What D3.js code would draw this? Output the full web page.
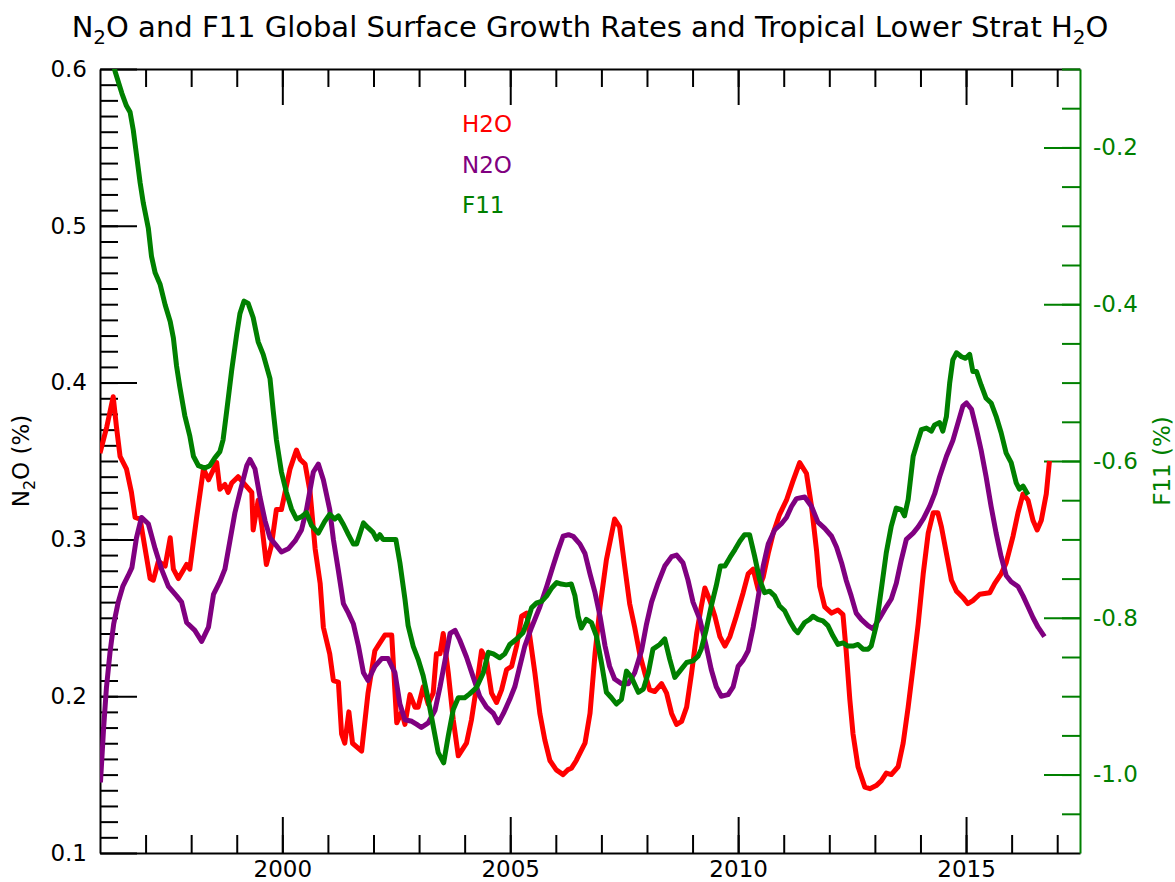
<!DOCTYPE html>
<html>
<head>
<meta charset="utf-8">
<script src="https://cdn.jsdelivr.net/npm/d3@7"></script>
<style>
  html, body { margin: 0; padding: 0; background: #fff; }
  svg { display: block; font-family: "DejaVu Sans", sans-serif; }
</style>
</head>
<body>
<svg id="chart" width="1175" height="882"></svg>
<script>
// Tropical lower-stratosphere H2O anomaly (left axis, same scale as N2O)
const h2oSeries = [[1996.00,0.355],[1996.15,0.372],[1996.29,0.391],[1996.36,0.372],[1996.44,0.353],[1996.58,0.345],[1996.69,0.330],[1996.77,0.314],[1996.88,0.313],[1996.99,0.294],[1997.10,0.275],[1997.17,0.274],[1997.28,0.286],[1997.43,0.283],[1997.54,0.301],[1997.61,0.281],[1997.72,0.275],[1997.90,0.284],[1997.97,0.281],[1998.12,0.314],[1998.27,0.345],[1998.38,0.338],[1998.56,0.349],[1998.63,0.332],[1998.74,0.335],[1998.81,0.330],[1998.89,0.336],[1999.03,0.340],[1999.18,0.335],[1999.33,0.330],[1999.36,0.306],[1999.47,0.325],[1999.55,0.309],[1999.65,0.284],[1999.76,0.296],[1999.87,0.319],[1999.98,0.319],[2000.06,0.330],[2000.17,0.345],[2000.31,0.357],[2000.39,0.351],[2000.50,0.348],[2000.61,0.330],[2000.72,0.294],[2000.83,0.272],[2000.90,0.244],[2001.04,0.227],[2001.12,0.210],[2001.23,0.209],[2001.30,0.176],[2001.37,0.170],[2001.46,0.190],[2001.54,0.170],[2001.74,0.165],[2001.88,0.202],[2002.03,0.229],[2002.14,0.234],[2002.25,0.239],[2002.40,0.239],[2002.51,0.183],[2002.62,0.190],[2002.69,0.182],[2002.80,0.201],[2002.91,0.193],[2002.98,0.193],[2003.09,0.206],[2003.20,0.195],[2003.31,0.202],[2003.38,0.227],[2003.46,0.227],[2003.53,0.240],[2003.64,0.215],[2003.75,0.185],[2003.86,0.162],[2004.04,0.170],[2004.15,0.185],[2004.26,0.206],[2004.37,0.229],[2004.48,0.223],[2004.59,0.202],[2004.70,0.196],[2004.81,0.204],[2004.92,0.217],[2005.03,0.219],[2005.14,0.232],[2005.25,0.251],[2005.36,0.253],[2005.43,0.238],[2005.54,0.215],[2005.65,0.189],[2005.76,0.172],[2005.87,0.159],[2006.01,0.153],[2006.16,0.150],[2006.26,0.153],[2006.34,0.154],[2006.45,0.159],[2006.64,0.170],[2006.75,0.189],[2006.86,0.227],[2006.97,0.257],[2007.11,0.287],[2007.29,0.313],[2007.40,0.308],[2007.51,0.283],[2007.62,0.259],[2007.73,0.244],[2007.84,0.227],[2007.95,0.215],[2008.06,0.204],[2008.17,0.203],[2008.32,0.208],[2008.43,0.202],[2008.54,0.189],[2008.65,0.182],[2008.76,0.184],[2008.87,0.193],[2008.98,0.215],[2009.09,0.240],[2009.19,0.257],[2009.27,0.269],[2009.38,0.261],[2009.49,0.251],[2009.60,0.238],[2009.71,0.232],[2009.82,0.238],[2009.96,0.251],[2010.11,0.266],[2010.22,0.278],[2010.33,0.281],[2010.44,0.268],[2010.55,0.276],[2010.66,0.291],[2010.77,0.304],[2010.91,0.316],[2011.06,0.325],[2011.20,0.337],[2011.35,0.349],[2011.50,0.342],[2011.61,0.321],[2011.72,0.293],[2011.79,0.270],[2011.90,0.257],[2012.05,0.253],[2012.19,0.255],[2012.30,0.252],[2012.37,0.229],[2012.45,0.198],[2012.52,0.176],[2012.63,0.155],[2012.78,0.142],[2012.89,0.141],[2013.03,0.143],[2013.14,0.146],[2013.25,0.151],[2013.36,0.150],[2013.51,0.155],[2013.62,0.170],[2013.73,0.193],[2013.84,0.219],[2013.95,0.246],[2014.06,0.278],[2014.17,0.304],[2014.28,0.317],[2014.38,0.317],[2014.46,0.308],[2014.57,0.291],[2014.68,0.274],[2014.79,0.267],[2014.93,0.263],[2015.04,0.259],[2015.15,0.261],[2015.30,0.265],[2015.52,0.266],[2015.63,0.272],[2015.77,0.278],[2015.88,0.285],[2016.03,0.302],[2016.14,0.317],[2016.25,0.329],[2016.36,0.325],[2016.47,0.312],[2016.56,0.306],[2016.65,0.312],[2016.76,0.329],[2016.83,0.350]];

// N2O global surface growth rate, % per year (left axis)
const n2oSeries = [[1996.01,0.145],[1996.08,0.180],[1996.14,0.205],[1996.22,0.228],[1996.30,0.246],[1996.40,0.260],[1996.50,0.270],[1996.62,0.277],[1996.70,0.282],[1996.80,0.301],[1996.91,0.314],[1997.06,0.310],[1997.21,0.294],[1997.35,0.281],[1997.50,0.270],[1997.68,0.264],[1997.79,0.260],[1997.90,0.247],[1998.08,0.242],[1998.23,0.235],[1998.38,0.244],[1998.49,0.265],[1998.63,0.273],[1998.74,0.281],[1998.85,0.299],[1998.96,0.317],[1999.07,0.330],[1999.22,0.347],[1999.29,0.351],[1999.40,0.345],[1999.51,0.327],[1999.62,0.312],[1999.73,0.301],[1999.87,0.296],[1999.98,0.292],[2000.13,0.294],[2000.28,0.299],[2000.42,0.306],[2000.53,0.319],[2000.68,0.343],[2000.79,0.348],[2000.90,0.338],[2001.04,0.319],[2001.12,0.300],[2001.23,0.280],[2001.34,0.259],[2001.45,0.253],[2001.56,0.246],[2001.67,0.232],[2001.78,0.215],[2001.88,0.210],[2002.03,0.219],[2002.18,0.224],[2002.32,0.224],[2002.47,0.215],[2002.58,0.195],[2002.69,0.185],[2002.84,0.184],[2002.95,0.182],[2003.05,0.180],[2003.20,0.183],[2003.35,0.191],[2003.46,0.206],[2003.57,0.223],[2003.68,0.240],[2003.79,0.242],[2003.89,0.236],[2004.04,0.225],[2004.19,0.212],[2004.33,0.200],[2004.48,0.193],[2004.63,0.189],[2004.74,0.183],[2004.85,0.189],[2004.99,0.198],[2005.10,0.206],[2005.21,0.219],[2005.32,0.232],[2005.47,0.244],[2005.65,0.257],[2005.80,0.270],[2005.94,0.283],[2006.05,0.293],[2006.16,0.302],[2006.28,0.303],[2006.38,0.302],[2006.53,0.297],[2006.64,0.291],[2006.75,0.278],[2006.86,0.266],[2006.97,0.251],[2007.08,0.232],[2007.18,0.219],[2007.29,0.211],[2007.44,0.208],[2007.59,0.208],[2007.73,0.215],[2007.88,0.229],[2007.99,0.246],[2008.10,0.260],[2008.24,0.272],[2008.39,0.283],[2008.54,0.289],[2008.65,0.290],[2008.79,0.285],[2008.90,0.274],[2009.01,0.260],[2009.16,0.249],[2009.30,0.232],[2009.41,0.217],[2009.52,0.206],[2009.63,0.200],[2009.78,0.201],[2009.89,0.206],[2010.00,0.219],[2010.11,0.223],[2010.22,0.229],[2010.33,0.244],[2010.44,0.263],[2010.55,0.283],[2010.66,0.297],[2010.80,0.306],[2010.95,0.310],[2011.06,0.314],[2011.17,0.321],[2011.28,0.326],[2011.46,0.327],[2011.61,0.321],[2011.75,0.311],[2011.90,0.307],[2012.05,0.302],[2012.16,0.295],[2012.27,0.285],[2012.37,0.274],[2012.48,0.264],[2012.59,0.253],[2012.70,0.249],[2012.85,0.245],[2012.96,0.243],[2013.11,0.250],[2013.25,0.257],[2013.36,0.262],[2013.47,0.272],[2013.58,0.287],[2013.69,0.300],[2013.84,0.304],[2013.95,0.308],[2014.06,0.313],[2014.20,0.321],[2014.31,0.329],[2014.42,0.340],[2014.57,0.353],[2014.71,0.363],[2014.82,0.374],[2014.93,0.385],[2015.01,0.387],[2015.12,0.383],[2015.23,0.370],[2015.33,0.357],[2015.44,0.340],[2015.55,0.321],[2015.66,0.304],[2015.77,0.289],[2015.88,0.277],[2015.99,0.273],[2016.14,0.270],[2016.25,0.264],[2016.36,0.257],[2016.47,0.250],[2016.58,0.244],[2016.72,0.238]];

// CFC-11 global surface growth rate, % per year (right axis)
const f11Series = [[1996.20,-0.060],[1996.33,-0.103],[1996.48,-0.131],[1996.58,-0.147],[1996.66,-0.155],[1996.73,-0.178],[1996.80,-0.209],[1996.88,-0.245],[1996.95,-0.271],[1997.06,-0.303],[1997.13,-0.339],[1997.21,-0.360],[1997.32,-0.375],[1997.43,-0.401],[1997.54,-0.422],[1997.61,-0.443],[1997.68,-0.479],[1997.75,-0.505],[1997.86,-0.542],[1997.97,-0.568],[1998.05,-0.594],[1998.16,-0.606],[1998.30,-0.609],[1998.41,-0.606],[1998.52,-0.596],[1998.63,-0.588],[1998.70,-0.573],[1998.78,-0.536],[1998.89,-0.484],[1999.00,-0.438],[1999.07,-0.412],[1999.16,-0.396],[1999.25,-0.399],[1999.36,-0.417],[1999.47,-0.448],[1999.58,-0.464],[1999.73,-0.495],[1999.80,-0.536],[1999.87,-0.573],[1999.98,-0.614],[2000.09,-0.640],[2000.20,-0.661],[2000.31,-0.674],[2000.42,-0.671],[2000.53,-0.666],[2000.64,-0.682],[2000.79,-0.692],[2000.93,-0.677],[2001.04,-0.668],[2001.15,-0.674],[2001.23,-0.670],[2001.34,-0.681],[2001.45,-0.694],[2001.56,-0.706],[2001.63,-0.706],[2001.78,-0.679],[2001.88,-0.685],[2001.99,-0.691],[2002.07,-0.700],[2002.14,-0.694],[2002.21,-0.700],[2002.36,-0.700],[2002.49,-0.700],[2002.58,-0.730],[2002.69,-0.776],[2002.76,-0.810],[2002.87,-0.836],[2002.98,-0.853],[2003.09,-0.874],[2003.20,-0.904],[2003.31,-0.938],[2003.42,-0.972],[2003.54,-0.985],[2003.64,-0.951],[2003.75,-0.917],[2003.86,-0.902],[2004.00,-0.902],[2004.11,-0.897],[2004.26,-0.889],[2004.41,-0.870],[2004.52,-0.844],[2004.63,-0.846],[2004.77,-0.851],[2004.88,-0.846],[2004.99,-0.834],[2005.14,-0.827],[2005.28,-0.819],[2005.39,-0.802],[2005.47,-0.787],[2005.58,-0.781],[2005.69,-0.779],[2005.80,-0.772],[2005.91,-0.762],[2006.02,-0.755],[2006.12,-0.757],[2006.23,-0.758],[2006.34,-0.757],[2006.42,-0.772],[2006.49,-0.798],[2006.56,-0.813],[2006.67,-0.802],[2006.78,-0.806],[2006.89,-0.823],[2007.00,-0.857],[2007.11,-0.895],[2007.22,-0.902],[2007.33,-0.910],[2007.44,-0.904],[2007.55,-0.868],[2007.66,-0.876],[2007.81,-0.895],[2007.92,-0.891],[2008.03,-0.870],[2008.13,-0.840],[2008.28,-0.834],[2008.39,-0.827],[2008.50,-0.853],[2008.61,-0.876],[2008.72,-0.868],[2008.87,-0.857],[2009.01,-0.855],[2009.12,-0.849],[2009.19,-0.840],[2009.30,-0.815],[2009.41,-0.785],[2009.52,-0.759],[2009.61,-0.734],[2009.71,-0.734],[2009.82,-0.723],[2009.93,-0.713],[2010.04,-0.702],[2010.14,-0.694],[2010.25,-0.694],[2010.36,-0.721],[2010.47,-0.751],[2010.58,-0.768],[2010.69,-0.766],[2010.80,-0.772],[2010.91,-0.785],[2011.02,-0.791],[2011.13,-0.804],[2011.24,-0.815],[2011.31,-0.819],[2011.46,-0.806],[2011.57,-0.802],[2011.64,-0.798],[2011.75,-0.802],[2011.86,-0.804],[2011.97,-0.810],[2012.08,-0.823],[2012.19,-0.834],[2012.30,-0.832],[2012.41,-0.836],[2012.52,-0.836],[2012.63,-0.834],[2012.74,-0.840],[2012.85,-0.840],[2012.92,-0.836],[2013.03,-0.810],[2013.14,-0.764],[2013.25,-0.717],[2013.36,-0.683],[2013.47,-0.660],[2013.58,-0.662],[2013.65,-0.670],[2013.73,-0.649],[2013.84,-0.594],[2013.95,-0.573],[2014.02,-0.560],[2014.13,-0.558],[2014.24,-0.562],[2014.31,-0.554],[2014.42,-0.551],[2014.49,-0.562],[2014.57,-0.543],[2014.64,-0.501],[2014.71,-0.471],[2014.79,-0.462],[2014.90,-0.467],[2014.99,-0.469],[2015.08,-0.464],[2015.15,-0.486],[2015.23,-0.486],[2015.33,-0.503],[2015.44,-0.520],[2015.55,-0.526],[2015.66,-0.543],[2015.77,-0.564],[2015.88,-0.590],[2015.99,-0.602],[2016.10,-0.628],[2016.17,-0.636],[2016.25,-0.632],[2016.36,-0.643]];

// Axis ranges and labelled ticks
const yearDomain = [1996, 2017.5];
const yearTicks = [2000, 2005, 2010, 2015];
const n2oDomain = [0.1, 0.6];
const n2oTicks = [0.1, 0.2, 0.3, 0.4, 0.5, 0.6];
const f11Domain = [-1.1, -0.1];
const f11Ticks = [-1.0, -0.8, -0.6, -0.4, -0.2];

// Legend entries
const legendLabels = ["H2O", "N2O", "F11"];
const legendColors = ["#ff0000", "#800080", "#008000"];

const svg = d3.select("#chart");
const plotLeft = 100, plotRight = 1080, plotTop = 69, plotBottom = 853;
const green = "#008000";
const fontSize = 23;
const titleSize = 29;

const x = d3.scaleLinear().domain(yearDomain).range([plotLeft, plotRight]);
const yL = d3.scaleLinear().domain(n2oDomain).range([plotBottom, plotTop]);
const yR = d3.scaleLinear().domain(f11Domain).range([plotBottom, plotTop]);

svg.append("defs").append("clipPath").attr("id", "plotClip")
  .append("rect").attr("x", plotLeft).attr("y", plotTop)
  .attr("width", plotRight - plotLeft).attr("height", plotBottom - plotTop);

const minorYears = d3.range(1997, 2018);
const minorN2O = d3.range(11, 60).map(d => d / 100);
const minorF11 = d3.range(-21, -1).map(d => d / 20);

function styleAxis(g, color) {
  g.selectAll("line").attr("stroke", color).attr("stroke-width", 2);
  g.selectAll("path.domain").attr("stroke", color).attr("stroke-width", 2);
  g.selectAll("text").attr("fill", color)
    .style("font-family", "'DejaVu Sans', sans-serif").style("font-size", fontSize + "px");
}

// Bottom axis
svg.append("g").attr("transform", `translate(0,${plotBottom})`)
  .call(d3.axisBottom(x).tickValues(minorYears).tickSize(-18).tickSizeOuter(0).tickFormat(""))
  .call(g => g.select(".domain").remove()).call(g => styleAxis(g, "#000"));
svg.append("g").attr("transform", `translate(0,${plotBottom})`)
  .call(d3.axisBottom(x).tickValues(yearTicks).tickSize(-36).tickSizeOuter(0).tickPadding(8).tickFormat(d3.format("d")))
  .call(g => styleAxis(g, "#000"));

// Top axis (ticks only)
svg.append("g").attr("transform", `translate(0,${plotTop})`)
  .call(d3.axisTop(x).tickValues(minorYears).tickSize(-18).tickSizeOuter(0).tickFormat(""))
  .call(g => g.select(".domain").remove()).call(g => styleAxis(g, "#000"));
svg.append("g").attr("transform", `translate(0,${plotTop})`)
  .call(d3.axisTop(x).tickValues(yearTicks).tickSize(-36).tickSizeOuter(0).tickFormat(""))
  .call(g => styleAxis(g, "#000"));

// Left axis: N2O
svg.append("g").attr("transform", `translate(${plotLeft},0)`)
  .call(d3.axisLeft(yL).tickValues(minorN2O).tickSize(-18).tickSizeOuter(0).tickFormat(""))
  .call(g => g.select(".domain").remove()).call(g => styleAxis(g, "#000"));
svg.append("g").attr("transform", `translate(${plotLeft},0)`)
  .call(d3.axisLeft(yL).tickValues(n2oTicks).tickSize(-37).tickSizeOuter(0).tickPadding(13).tickFormat(d3.format(".1f")))
  .call(g => styleAxis(g, "#000"));

// Right axis: F11
svg.append("g").attr("transform", `translate(${plotRight},0)`)
  .call(d3.axisRight(yR).tickValues(minorF11).tickSize(-18).tickSizeOuter(0).tickFormat(""))
  .call(g => g.select(".domain").remove()).call(g => styleAxis(g, green));
svg.append("g").attr("transform", `translate(${plotRight},0)`)
  .call(d3.axisRight(yR).tickValues(f11Ticks).tickSize(-36).tickSizeOuter(0).tickPadding(13).tickFormat(d => d3.format(".1f")(d).replace("\u2212", "-")))
  .call(g => styleAxis(g, green));

// Data lines
const plot = svg.append("g").attr("clip-path", "url(#plotClip)");
const lineL = d3.line().x(d => x(d[0])).y(d => yL(d[1]));
const lineR = d3.line().x(d => x(d[0])).y(d => yR(d[1]));

plot.append("path").datum(h2oSeries).attr("d", lineL)
  .attr("fill", "none").attr("stroke", "#ff0000").attr("stroke-width", 5).attr("stroke-linejoin", "round");
plot.append("path").datum(n2oSeries).attr("d", lineL)
  .attr("fill", "none").attr("stroke", "#800080").attr("stroke-width", 5).attr("stroke-linejoin", "round");
plot.append("path").datum(f11Series).attr("d", lineR)
  .attr("fill", "none").attr("stroke", "#008000").attr("stroke-width", 5).attr("stroke-linejoin", "round");

// Title with subscripts
const title = svg.append("text").attr("x", 590).attr("y", 37)
  .attr("text-anchor", "middle").style("font-size", titleSize + "px").attr("fill", "#000");
title.append("tspan").text("N");
title.append("tspan").attr("dy", 7).style("font-size", "20px").text("2");
title.append("tspan").attr("dy", -7).text("O and F11 Global Surface Growth Rates and Tropical Lower Strat H");
title.append("tspan").attr("dy", 7).style("font-size", "20px").text("2");
title.append("tspan").attr("dy", -7).text("O");

// Axis titles
const yTitle = svg.append("text").attr("transform", "translate(29,461) rotate(-90)")
  .attr("text-anchor", "middle").style("font-size", fontSize + "px").attr("fill", "#000");
yTitle.append("tspan").text("N");
yTitle.append("tspan").attr("dy", 6).style("font-size", "16px").text("2");
yTitle.append("tspan").attr("dy", -6).text("O (%)");

svg.append("text").attr("transform", "translate(1170,461) rotate(-90)")
  .attr("text-anchor", "middle").style("font-size", fontSize + "px").attr("fill", green)
  .text("F11 (%)");

// Legend
svg.append("g").selectAll("text").data(legendLabels).join("text")
  .attr("x", 462).attr("y", (d, i) => 132 + i * 40.5)
  .style("font-size", fontSize + "px")
  .attr("fill", (d, i) => legendColors[i])
  .text(d => d);
</script>
</body>
</html>
